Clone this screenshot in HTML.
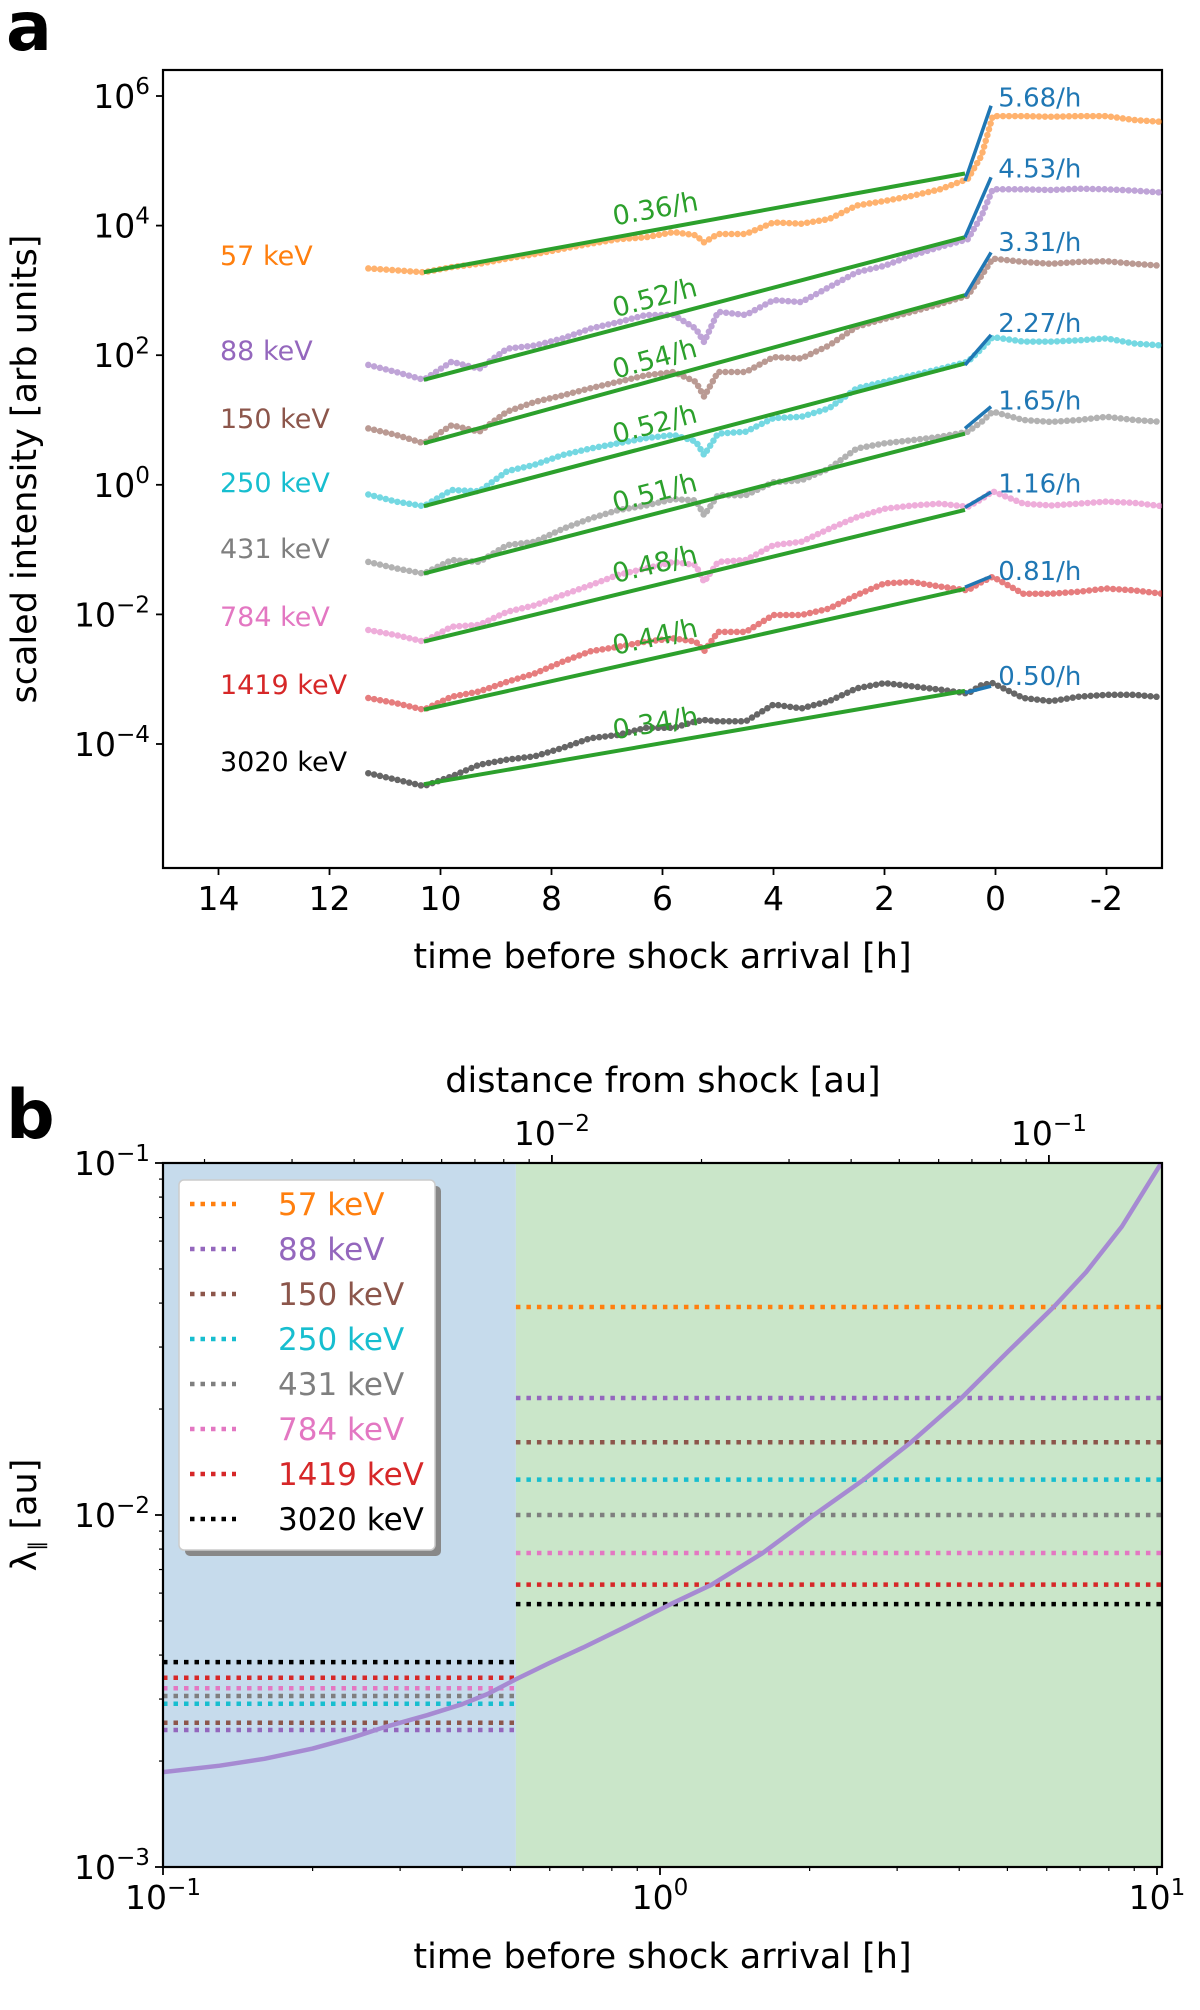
<!DOCTYPE html>
<html><head><meta charset="utf-8"><style>
html,body{margin:0;padding:0;background:#fff;}
svg{display:block;font-family:"DejaVu Sans","Liberation Sans",sans-serif;}
</style></head><body>
<svg id="fig" width="1200" height="2010" viewBox="0 0 1200 2010" xmlns="http://www.w3.org/2000/svg">
<text x="6" y="50" font-size="68" font-weight="bold">a</text>
<text x="6" y="1138" font-size="68" font-weight="bold">b</text>
<g id="pa"></g>
<g id="pb"></g>
</svg>
<script>
const NS="http://www.w3.org/2000/svg";
// ---------- Panel A data ----------
const times=[11.3,10.8,10.3,9.8,9.3,8.8,8.3,7.8,7.3,6.8,6.3,5.8,5.4,5.25,5.0,4.5,4.0,3.5,3.0,2.5,2.0,1.5,1.0,0.5,0.25,0.05,-0.5,-1,-1.5,-2,-2.5,-3];
const energies=["57 keV","88 keV","150 keV","250 keV","431 keV","784 keV","1419 keV","3020 keV"];
const colors=["#ff7f0e","#9467bd","#8c564b","#17becf","#7f7f7f","#e377c2","#d62728","#000000"];
const s57=[3.34,3.31,3.28,3.36,3.41,3.49,3.56,3.64,3.72,3.79,3.82,3.90,3.85,3.74,3.87,3.87,4.05,4.03,4.10,4.31,4.38,4.46,4.56,4.72,5.08,5.69,5.69,5.68,5.69,5.69,5.63,5.60];
const s88=[1.85,1.74,1.62,1.90,1.79,2.10,2.15,2.26,2.41,2.51,2.62,2.62,2.41,2.20,2.67,2.62,2.85,2.82,3.05,3.28,3.38,3.54,3.67,3.79,4.15,4.56,4.56,4.55,4.57,4.56,4.54,4.51];
const s150=[0.87,0.77,0.64,0.92,0.82,1.13,1.28,1.38,1.49,1.59,1.69,1.74,1.59,1.36,1.74,1.74,1.97,1.95,2.15,2.44,2.56,2.67,2.79,2.92,3.23,3.49,3.44,3.41,3.44,3.45,3.41,3.38];
const s250=[-0.15,-0.26,-0.33,-0.08,-0.10,0.21,0.31,0.46,0.56,0.64,0.72,0.77,0.67,0.46,0.79,0.82,1.03,1.05,1.18,1.49,1.59,1.69,1.79,1.90,2.10,2.28,2.21,2.21,2.23,2.26,2.18,2.15];
const s431=[-1.19,-1.29,-1.37,-1.16,-1.19,-0.93,-0.88,-0.68,-0.52,-0.39,-0.32,-0.22,-0.24,-0.47,-0.16,-0.16,0.04,0.07,0.25,0.56,0.64,0.69,0.74,0.82,0.97,1.13,1.00,0.97,1.00,1.05,1.00,0.97];
const s784=[-2.24,-2.32,-2.42,-2.19,-2.16,-1.96,-1.86,-1.70,-1.55,-1.39,-1.29,-1.19,-1.24,-1.50,-1.19,-1.16,-0.93,-0.88,-0.68,-0.50,-0.37,-0.32,-0.29,-0.34,-0.22,-0.10,-0.29,-0.32,-0.29,-0.26,-0.28,-0.33];
const s1419=[-3.29,-3.37,-3.47,-3.27,-3.19,-3.04,-2.91,-2.73,-2.57,-2.50,-2.42,-2.37,-2.42,-2.57,-2.27,-2.27,-2.01,-2.01,-1.91,-1.70,-1.52,-1.50,-1.57,-1.63,-1.50,-1.42,-1.68,-1.68,-1.65,-1.60,-1.63,-1.68];
const s3020=[-4.45,-4.55,-4.65,-4.50,-4.32,-4.24,-4.19,-4.06,-3.91,-3.86,-3.75,-3.75,-3.65,-3.63,-3.65,-3.65,-3.39,-3.45,-3.34,-3.14,-3.06,-3.11,-3.16,-3.22,-3.09,-3.06,-3.29,-3.34,-3.27,-3.24,-3.24,-3.28];
const seriesA=[s57,s88,s150,s250,s431,s784,s1419,s3020];
const fitStart=[3.28,1.62,0.64,-0.33,-1.37,-2.42,-3.47,-4.62];
const fitRates=[0.36,0.52,0.54,0.52,0.51,0.48,0.44,0.34];
const shockStart=[4.69,3.82,2.91,1.85,0.87,-0.35,-1.58,-3.21];
const shockRates=[5.68,4.53,3.31,2.27,1.65,1.16,0.81,0.50];
const postLevel=[5.70,4.60,3.47,2.22,1.02,-0.26,-1.61,-3.23];
const yTicksA=[6,4,2,0,-2,-4];
const xTicksA=[14,12,10,8,6,4,2,0,-2];
// ---------- Panel B data ----------
const energyLevelsHigh=[0.039,0.0215,0.0161,0.0126,0.0100,0.0078,0.00634,0.00558];
const energyLevelsLow=[null,0.00245,0.00257,0.00291,0.00306,0.00322,0.00345,0.00382];
const curveT=[0.1,0.13,0.16,0.2,0.24,0.28,0.34,0.4,0.45,0.51,0.6,0.7,0.85,1.05,1.27,1.61,2.04,2.57,3.2,4.04,5.0,6.2,7.2,8.5,10.2];
const curveL=[0.00186,0.00194,0.00203,0.00217,0.00233,0.0025,0.0027,0.0029,0.0031,0.0034,0.0038,0.0042,0.0048,0.00558,0.00634,0.0078,0.0100,0.0126,0.0161,0.0215,0.029,0.039,0.049,0.066,0.1];
const shockBoundary=0.513;
const auPerHour=0.0165;

function el(tag,attrs,parent){const e=document.createElementNS(NS,tag);for(const k in attrs)e.setAttribute(k,attrs[k]);parent.appendChild(e);return e;}
function supText(parent,x,y,base,exp,size,anchor){
  const t=el('text',{x:x,y:y,'font-size':size,'text-anchor':anchor||'middle'},parent);
  t.appendChild(document.createTextNode(base));
  const s=el('tspan',{dy:-size*0.42,'font-size':size*0.7},t);
  s.textContent=exp;return t;}
function fmtExp(n){return String(n).replace('-','\u2212');}

// ---------- Panel A ----------
const pa=document.getElementById('pa');
const AL=163,AR=1162,AT=70,AB=868;
const xa=t=>AL+(15-t)*55.5;
const ya=l=>96+(6-l)*64.8;
const frameA=el('rect',{x:AL,y:AT,width:AR-AL,height:AB-AT,fill:'none',stroke:'#000','stroke-width':2.2},pa);


const clipA=el('clipPath',{id:'clipA'},pa);el('rect',{x:AL,y:AT,width:AR-AL,height:AB-AT},clipA);
const plotA=el('g',{'clip-path':'url(#clipA)'},pa);
seriesA.forEach((s,i)=>{
  const pts=s.map((v,j)=>xa(times[j]).toFixed(1)+','+ya(v).toFixed(1)).join(' ');
  const p=el('polyline',{points:pts,fill:'none',stroke:colors[i],'stroke-width':6.5,'stroke-linecap':'round','stroke-linejoin':'round','stroke-dasharray':'0 6',opacity:0.6},plotA);
  
  
});
seriesA.forEach((s,i)=>{
  const l0=fitStart[i], l1=l0+fitRates[i]*(10.3-0.55)/Math.LN10;
  const g=el('line',{x1:xa(10.3),y1:ya(l0),x2:xa(0.55),y2:ya(l1),stroke:'#2ca02c','stroke-width':4},pa);
  
  
  const tm=6.1, lm=l0+fitRates[i]*(10.3-tm)/Math.LN10;
  const ang=Math.atan2(ya(l1)-ya(l0),xa(0.55)-xa(10.3))*180/Math.PI;
  const cx=xa(tm), cy=ya(lm)-12;
  const gt=el('text',{x:cx,y:cy,'font-size':27,fill:'#2ca02c','text-anchor':'middle',transform:`rotate(${ang.toFixed(2)} ${cx.toFixed(1)} ${cy.toFixed(1)})`},pa);
  gt.textContent=fitRates[i].toFixed(2)+'/h';
  
  
  const b0=shockStart[i], b1=b0+shockRates[i]*(0.55-0.08)/Math.LN10;
  const b=el('line',{x1:xa(0.55),y1:ya(b0),x2:xa(0.08),y2:ya(b1),stroke:'#1f77b4','stroke-width':3.5},pa);
  
  
  const bt=el('text',{x:xa(-0.05),y:ya(postLevel[i])-9,'font-size':26,fill:'#1f77b4'},pa);
  bt.textContent=shockRates[i].toFixed(2)+'/h';
  
  
  const et=el('text',{x:220,y:[256,351,419,483,549,617,685,762][i]+9,'font-size':27,fill:colors[i]},pa);
  et.textContent=energies[i];
  
  
});
yTicksA.forEach(v=>{
  el('line',{x1:AL-7,y1:ya(v),x2:AL,y2:ya(v),stroke:'#000','stroke-width':1.8},pa);
  const t=supText(pa,150,ya(v)+12,'10',fmtExp(v),33,'end');
  
  
});
xTicksA.forEach(v=>{
  el('line',{x1:xa(v),y1:AB,x2:xa(v),y2:AB+7,stroke:'#000','stroke-width':1.8},pa);
  const t=el('text',{x:xa(v),y:AB+42,'font-size':33,'text-anchor':'middle'},pa);
  t.textContent=String(v);
  
  
});
{const t=el('text',{x:(AL+AR)/2,y:968,'font-size':35,'text-anchor':'middle'},pa);t.textContent='time before shock arrival [h]';

}
{const t=el('text',{x:0,y:0,'font-size':35,'text-anchor':'middle',transform:`translate(36 ${(AT+AB)/2}) rotate(-90)`},pa);t.textContent='scaled intensity [arb units]';

}

// ---------- Panel B ----------
const pb=document.getElementById('pb');
const BL=163,BR=1162,BT=1163,BB=1867;
const xb=v=>BL+(Math.log10(v)+1)*497;
const yb=v=>BT+(-1-Math.log10(v))*352;
const xmax=Math.pow(10,(BR-BL)/497-1);
{const r=el('rect',{x:BL,y:BT,width:xb(shockBoundary)-BL,height:BB-BT,fill:'#c6dbec'},pb);


const g=el('rect',{x:xb(shockBoundary),y:BT,width:BR-xb(shockBoundary),height:BB-BT,fill:'#cae6c9'},pb);

}
energyLevelsHigh.forEach((v,i)=>{
  const l=el('line',{x1:xb(shockBoundary),y1:yb(v),x2:BR,y2:yb(v),stroke:colors[i],'stroke-width':4.5,'stroke-dasharray':'4.5 6'},pb);
  
  
});
energyLevelsLow.forEach((v,i)=>{
  if(v===null)return;
  const l=el('line',{x1:BL,y1:yb(v),x2:xb(shockBoundary),y2:yb(v),stroke:colors[i],'stroke-width':4.5,'stroke-dasharray':'4.5 6'},pb);
  
  
});
{const pts=curveT.map((t,j)=>xb(t).toFixed(1)+','+yb(curveL[j]).toFixed(1)).join(' ');
const c=el('polyline',{points:pts,fill:'none',stroke:'#a68ad2','stroke-width':4.5,'stroke-linejoin':'round'},pb);

}
{const f=el('rect',{x:BL,y:BT,width:BR-BL,height:BB-BT,fill:'none',stroke:'#000','stroke-width':2.2},pb);

}
[-1,0,1].forEach(e=>{
  el('line',{x1:xb(Math.pow(10,e)),y1:BB,x2:xb(Math.pow(10,e)),y2:BB+8,stroke:'#000','stroke-width':1.8},pb);
  const t=supText(pb,xb(Math.pow(10,e)),BB+42,'10',fmtExp(e),33,'middle');
  
  
  for(let m=2;m<10;m++){const v=m*Math.pow(10,e);if(v>xmax)break;
    el('line',{x1:xb(v),y1:BB,x2:xb(v),y2:BB+4,stroke:'#000','stroke-width':1.2},pb);}
});
[-1,-2,-3].forEach(e=>{
  el('line',{x1:BL-8,y1:yb(Math.pow(10,e)),x2:BL,y2:yb(Math.pow(10,e)),stroke:'#000','stroke-width':1.8},pb);
  const t=supText(pb,150,yb(Math.pow(10,e))+12,'10',fmtExp(e),33,'end');
  
  
});
[-3,-2].forEach(e=>{for(let m=2;m<10;m++){const v=m*Math.pow(10,e);
  el('line',{x1:BL-4,y1:yb(v),x2:BL,y2:yb(v),stroke:'#000','stroke-width':1.2},pb);}});
[-2,-1].forEach(e=>{
  const d=Math.pow(10,e);const x=xb(d/auPerHour);
  el('line',{x1:x,y1:BT-8,x2:x,y2:BT,stroke:'#000','stroke-width':1.8},pb);
  const t=supText(pb,x,BT-18,'10',fmtExp(e),33,'middle');
  
  
});
[-3,-2,-1].forEach(e=>{for(let m=2;m<10;m++){const d=m*Math.pow(10,e);const t=d/auPerHour;
  if(t<0.1||t>xmax)continue;
  el('line',{x1:xb(t),y1:BT-4,x2:xb(t),y2:BT,stroke:'#000','stroke-width':1.2},pb);}});
{const t=el('text',{x:663,y:1092,'font-size':35,'text-anchor':'middle'},pb);t.textContent='distance from shock [au]';

}
{const t=el('text',{x:(BL+BR)/2,y:1968,'font-size':35,'text-anchor':'middle'},pb);t.textContent='time before shock arrival [h]';

}
{const t=el('text',{x:0,y:0,'font-size':35,'text-anchor':'middle',transform:`translate(36 ${(BT+BB)/2}) rotate(-90)`},pb);
t.textContent='\u03bb';const s=el('tspan',{'font-size':20,dy:7},t);s.textContent='\u2225';const s2=el('tspan',{dy:-7},t);s2.textContent=' [au]';

}
{const lg=el('g',{},pb);


el('rect',{x:185,y:1186,width:256,height:370,rx:5,fill:'#888'},lg);
el('rect',{x:179,y:1180,width:256,height:370,rx:5,fill:'#fff',stroke:'#ccc','stroke-width':1.5},lg);
energies.forEach((e,i)=>{
  const y=1204+i*45;
  const ent=el('g',{},lg);
  
  
  el('line',{x1:190,y1:y,x2:236,y2:y,stroke:colors[i],'stroke-width':4.5,'stroke-dasharray':'4.5 6'},ent);
  const t=el('text',{x:278,y:y+11,'font-size':31,fill:colors[i]},ent);t.textContent=e;
});}
</script>
</body></html>
